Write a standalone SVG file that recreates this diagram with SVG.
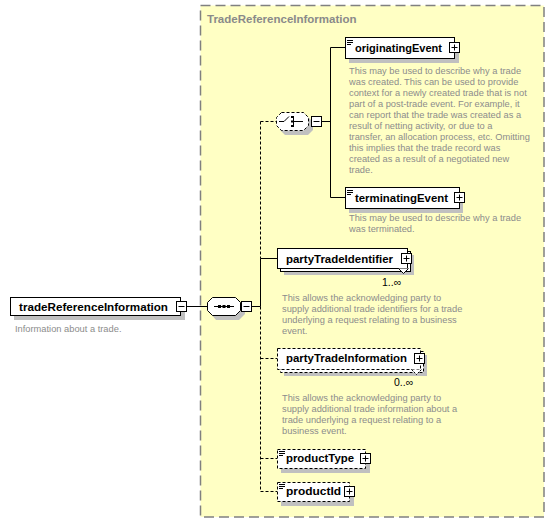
<svg xmlns="http://www.w3.org/2000/svg" width="555" height="523" viewBox="0 0 555 523">
<defs>
<style>
.lbl{font-family:"Liberation Sans",Arial,sans-serif;font-weight:bold;font-size:11.5px;fill:#000}
.ttl{font-family:"Liberation Sans",Arial,sans-serif;font-weight:bold;font-size:11.5px;fill:#8a8a8a}
.doc{font-family:"Liberation Sans",Arial,sans-serif;font-size:9.3px;fill:#8c8c8c}
.occ{font-family:"Liberation Sans",Arial,sans-serif;font-size:10.5px;fill:#000}
.box{fill:#fff;stroke:#000;stroke-width:1}
.opt{fill:#fff;stroke:#000;stroke-width:1;stroke-dasharray:3,2}
.shd{fill:#c0c0c0}
.ln{stroke:#000;stroke-width:1;fill:none}
.dl{stroke:#000;stroke-width:1;fill:none;stroke-dasharray:3,2}
.ico{fill:#fff;stroke:#000;stroke-width:1}
</style>
</defs>
<rect width="555" height="523" fill="#fff"/>
<g id="TradeReferenceInformation-group">
<rect x="200.5" y="5.5" width="343.5" height="511.5" fill="#ffffc4" stroke="#808080" stroke-width="1.5" stroke-dasharray="10,5"/>
<text class="ttl" x="207" y="23">TradeReferenceInformation</text>
</g>
<g id="connectors">
<path class="ln" d="M187,306.5 H207"/>
<path class="ln" d="M252,306.5 H260.5"/>
<path class="dl" d="M260.5,121.5 V258.5"/>
<path class="ln" d="M260.5,258.5 V306.5"/>
<path class="dl" d="M260.5,306.5 V491.5"/>
<path class="dl" d="M260.5,121.5 H276"/>
<path class="ln" d="M260.5,258.5 H277"/>
<path class="dl" d="M260.5,358.5 H277"/>
<path class="dl" d="M260.5,458.5 H277"/>
<path class="dl" d="M260.5,491.5 H277"/>
<path class="ln" d="M322,121.5 H330.5"/>
<path class="ln" d="M345,47.5 H330.5 V197.5 H345"/>
</g>
<g id="tradeReferenceInformation">
<rect class="shd" x="14" y="301" width="171" height="19"/>
<rect class="box" x="10.5" y="297.5" width="170" height="18"/>
<text class="lbl" x="19" y="310.5" textLength="149" lengthAdjust="spacingAndGlyphs">tradeReferenceInformation</text>
<rect class="ico" x="176.5" y="301.5" width="10" height="10"/>
<path class="ln" d="M178.5,306.5 H184.5"/>
<text class="doc" x="15" y="332">Information about a trade.</text>
</g>
<g id="sequence">
<path class="shd" d="M216,302 H239 L245,308 V314 L239,320 H216 L211,314 V308 Z"/>
<path class="box" d="M212.5,297.5 H235.5 L240.5,302.5 V310.5 L235.5,315.5 H212.5 L207.5,310.5 V302.5 Z"/>
<path class="ln" d="M214,306.5 H234"/>
<rect x="218" y="305" width="3" height="3" fill="#000"/>
<rect x="222.5" y="305" width="3" height="3" fill="#000"/>
<rect x="227" y="305" width="3" height="3" fill="#000"/>
<rect class="ico" x="241.5" y="301.5" width="10" height="10"/>
<path class="ln" d="M243.5,306.5 H249.5"/>
</g>
<g id="choice">
<path class="shd" d="M285,117 H308 L313,122 V130 L308,135 H285 L280,130 V122 Z"/>
<path class="opt" d="M281.5,112.5 H303.5 L308.5,117.5 V125.5 L303.5,130.5 H281.5 L276.5,125.5 V117.5 Z"/>
<path class="ln" d="M279,121.5 H284 L289,116.5"/>
<path class="ln" d="M293.5,116 V127"/>
<rect x="291" y="116" width="3" height="2" fill="#000"/>
<rect x="291" y="120.5" width="3" height="2" fill="#000"/>
<rect x="291" y="125" width="3" height="2" fill="#000"/>
<path class="ln" d="M293.5,121.5 H303"/>
<rect class="ico" x="311.5" y="116.5" width="10" height="10"/>
<path class="ln" d="M313.5,121.5 H319.5"/>
</g>
<g id="originatingEvent">
<rect class="shd" x="349" y="42" width="110" height="21"/>
<rect class="box" x="345.5" y="37.5" width="109" height="21"/>
<path class="ln" d="M347,40.5 H353 M347,42.5 H353 M347,44.5 H351"/>
<text class="lbl" x="355" y="52" textLength="87" lengthAdjust="spacingAndGlyphs">originatingEvent</text>
<rect class="ico" x="449.5" y="42.5" width="10" height="10"/>
<path class="ln" d="M451.5,47.5 H457.5 M454.5,44.5 V50.5"/>
<text class="doc" x="349" y="74">This may be used to describe why a trade</text>
<text class="doc" x="349" y="85">was created. This can be used to provide</text>
<text class="doc" x="349" y="96">context for a newly created trade that is not</text>
<text class="doc" x="349" y="107">part of a post-trade event. For example, it</text>
<text class="doc" x="349" y="118">can report that the trade was created as a</text>
<text class="doc" x="349" y="129">result of netting activity, or due to a</text>
<text class="doc" x="349" y="140">transfer, an allocation process, etc. Omitting</text>
<text class="doc" x="349" y="151">this implies that the trade record was</text>
<text class="doc" x="349" y="162">created as a result of a negotiated new</text>
<text class="doc" x="349" y="173">trade.</text>
</g>
<g id="terminatingEvent">
<rect class="shd" x="349" y="192" width="114" height="21"/>
<rect class="box" x="345.5" y="187.5" width="114" height="21"/>
<path class="ln" d="M347,190.5 H353 M347,192.5 H353 M347,194.5 H351"/>
<text class="lbl" x="355" y="202" textLength="93" lengthAdjust="spacingAndGlyphs">terminatingEvent</text>
<rect class="ico" x="454.5" y="192.5" width="10" height="10"/>
<path class="ln" d="M456.5,197.5 H462.5 M459.5,194.5 V200.5"/>
<text class="doc" x="349" y="221">This may be used to describe why a trade</text>
<text class="doc" x="349" y="232">was terminated.</text>
</g>
<g id="partyTradeIdentifier">
<rect class="shd" x="284" y="255" width="130" height="20"/>
<rect class="box" x="280.5" y="251.5" width="130" height="20"/>
<rect class="box" x="277.5" y="248.5" width="130" height="20"/>
<path fill="#fff" stroke="#000" d="M398.5,268.5 L403.5,273.5 L408.5,268.5"/>
<text class="lbl" x="286" y="262.5" textLength="107" lengthAdjust="spacingAndGlyphs">partyTradeIdentifier</text>
<rect class="ico" x="401.5" y="253.5" width="10" height="10"/>
<path class="ln" d="M403.5,258.5 H409.5 M406.5,255.5 V261.5"/>
<text class="occ" x="382" y="285.5">1..∞</text>
<text class="doc" x="282" y="300.5">This allows the acknowledging party to</text>
<text class="doc" x="282" y="311.5">supply additional trade identifiers for a trade</text>
<text class="doc" x="282" y="322.5">underlying a request relating to a business</text>
<text class="doc" x="282" y="333.5">event.</text>
</g>
<g id="partyTradeInformation">
<rect class="shd" x="284" y="355" width="143" height="21"/>
<rect class="opt" x="280.5" y="351.5" width="143" height="21"/>
<rect class="opt" x="277.5" y="348.5" width="143" height="21"/>
<path fill="#fff" stroke="#000" stroke-dasharray="2,1" d="M411.5,369.5 L416.5,374.5 L421.5,369.5"/>
<text class="lbl" x="286" y="362" textLength="121" lengthAdjust="spacingAndGlyphs">partyTradeInformation</text>
<rect class="ico" x="414.5" y="353.5" width="10" height="10"/>
<path class="ln" d="M416.5,358.5 H422.5 M419.5,355.5 V361.5"/>
<text class="occ" x="394" y="385.5">0..∞</text>
<text class="doc" x="282" y="401">This allows the acknowledging party to</text>
<text class="doc" x="282" y="412">supply additional trade information about a</text>
<text class="doc" x="282" y="423">trade underlying a request relating to a</text>
<text class="doc" x="282" y="434">business event.</text>
</g>
<g id="productType">
<rect class="shd" x="281" y="453" width="89" height="20"/>
<rect class="opt" x="277.5" y="449.5" width="88" height="19"/>
<path class="ln" d="M279,451.5 H285 M279,453.5 H285 M279,455.5 H283"/>
<text class="lbl" x="286" y="462" textLength="68" lengthAdjust="spacingAndGlyphs">productType</text>
<rect class="ico" x="360.5" y="453.5" width="10" height="10"/>
<path class="ln" d="M362.5,458.5 H368.5 M365.5,455.5 V461.5"/>
</g>
<g id="productId">
<rect class="shd" x="281" y="486" width="73" height="20"/>
<rect class="opt" x="277.5" y="482.5" width="72" height="19"/>
<path class="ln" d="M279,484.5 H285 M279,486.5 H285 M279,488.5 H283"/>
<text class="lbl" x="286" y="495" textLength="55" lengthAdjust="spacingAndGlyphs">productId</text>
<rect class="ico" x="344.5" y="486.5" width="10" height="10"/>
<path class="ln" d="M346.5,491.5 H352.5 M349.5,488.5 V494.5"/>
</g>
</svg>
